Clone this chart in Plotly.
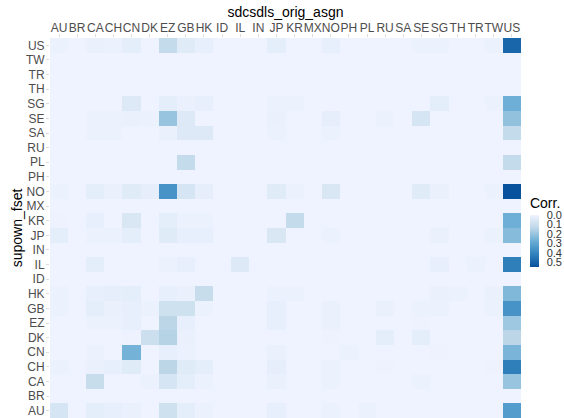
import plotly.graph_objects as go

FONT = "Liberation Sans, Arial, sans-serif"

x_labels = ["AU", "BR", "CA", "CH", "CN", "DK", "EZ", "GB", "HK", "ID", "IL", "IN", "JP",
            "KR", "MX", "NO", "PH", "PL", "RU", "SA", "SE", "SG", "TH", "TR", "TW", "US"]
# rows listed top to bottom as they appear on the chart
y_labels = ["US", "TW", "TR", "TH", "SG", "SE", "SA", "RU", "PL", "PH", "NO", "MX", "KR",
            "JP", "IN", "IL", "ID", "HK", "GB", "EZ", "DK", "CN", "CH", "CA", "BR", "AU"]

ZERO = [0] * 26
row_US = [0.01, 0, 0.015, 0.01, 0.03, 0, 0.12, 0.04, 0.02, 0, 0, 0, 0.03, 0, 0, 0.02, 0, 0, 0, 0, 0.01, 0.01, 0, 0, 0.01, 0.49]
row_TW = ZERO
row_TR = ZERO
row_TH = ZERO
row_SG = [0, 0, 0, 0, 0.05, 0, 0.03, 0.015, 0.02, 0, 0, 0, 0.01, 0.01, 0, 0, 0, 0, 0, 0, 0, 0.03, 0, 0, 0.01, 0.27]
row_SE = [0, 0, 0.01, 0.01, 0.015, 0.01, 0.2, 0.05, 0, 0, 0, 0, 0.015, 0, 0, 0.025, 0, 0, 0.01, 0, 0.07, 0, 0, 0, 0, 0.21]
row_SA = [0, 0, 0.01, 0.01, 0, 0, 0.015, 0.05, 0.05, 0, 0, 0, 0.01, 0, 0, 0.01, 0, 0, 0, 0, 0, 0, 0, 0, 0, 0.12]
row_RU = ZERO
row_PL = [0, 0, 0, 0, 0, 0, 0, 0.12, 0, 0, 0, 0, 0, 0, 0, 0, 0, 0, 0, 0, 0, 0, 0, 0, 0, 0.12]
row_PH = ZERO
row_NO = [0.01, 0, 0.03, 0.015, 0.04, 0.025, 0.36, 0.07, 0.025, 0, 0, 0, 0.04, 0.01, 0, 0.06, 0, 0, 0, 0, 0.04, 0.015, 0, 0, 0.01, 0.55]
row_MX = ZERO
row_KR = [0.005, 0, 0.02, 0, 0.06, 0, 0.03, 0.01, 0.01, 0, 0, 0, 0, 0.12, 0, 0, 0, 0, 0, 0, 0, 0, 0, 0, 0, 0.27]
row_JP = [0.03, 0, 0.01, 0.01, 0.03, 0, 0.04, 0.02, 0.02, 0, 0, 0, 0.06, 0, 0, 0.01, 0, 0, 0, 0, 0, 0.015, 0, 0, 0.01, 0.23]
row_IN = ZERO
row_IL = [0, 0, 0.03, 0, 0, 0, 0.01, 0.02, 0, 0, 0.05, 0, 0, 0, 0, 0, 0, 0, 0, 0, 0, 0.02, 0, 0.01, 0, 0.42]
row_ID = ZERO
row_HK = [0.01, 0, 0.02, 0.025, 0.03, 0, 0.02, 0.015, 0.11, 0, 0, 0, 0.01, 0.01, 0, 0, 0, 0, 0, 0, 0, 0.015, 0.01, 0, 0.015, 0.24]
row_GB = [0.01, 0, 0.03, 0.015, 0.02, 0.01, 0.09, 0.09, 0.01, 0, 0, 0, 0.02, 0, 0, 0.015, 0, 0, 0.015, 0, 0.01, 0.01, 0, 0, 0.01, 0.36]
row_EZ = [0, 0, 0.01, 0.01, 0.02, 0, 0.14, 0.02, 0, 0, 0, 0, 0.02, 0, 0, 0.015, 0, 0, 0, 0, 0.005, 0, 0, 0, 0, 0.19]
row_DK = [0, 0, 0, 0, 0.005, 0.1, 0.15, 0.015, 0, 0, 0, 0, 0, 0, 0, 0.005, 0, 0, 0.03, 0, 0.03, 0, 0, 0, 0, 0.14]
row_CN = [0, 0, 0.01, 0, 0.26, 0, 0.02, 0.01, 0, 0, 0, 0, 0.015, 0, 0, 0, 0.01, 0, 0, 0, 0, 0.005, 0, 0, 0, 0.25]
row_CH = [0.01, 0, 0.015, 0.02, 0.04, 0, 0.14, 0.04, 0.03, 0, 0, 0, 0.025, 0, 0, 0.01, 0, 0, 0.005, 0, 0, 0, 0, 0, 0.005, 0.42]
row_CA = [0, 0, 0.11, 0, 0, 0.01, 0.07, 0.03, 0.01, 0, 0, 0, 0.015, 0, 0, 0.01, 0, 0, 0, 0, 0.01, 0, 0, 0, 0, 0.2]
row_BR = ZERO
row_AU = [0.07, 0, 0.03, 0.02, 0.015, 0, 0.09, 0.03, 0.01, 0, 0, 0, 0.02, 0, 0, 0.01, 0, 0.01, 0, 0, 0, 0, 0, 0, 0, 0.33]

corr = [row_US, row_TW, row_TR, row_TH, row_SG, row_SE, row_SA, row_RU, row_PL, row_PH, row_NO, row_MX, row_KR,
        row_JP, row_IN, row_IL, row_ID, row_HK, row_GB, row_EZ, row_DK, row_CN, row_CH, row_CA, row_BR, row_AU]

tick_vals = [0.0, 0.1, 0.2, 0.3, 0.4, 0.5]

# colour bar runs light (0) at the top to dark (0.5) at the bottom, so plot -corr on a flipped scale
neg = [[-v for v in row] for row in corr]
scale = [[0, "#08519c"], [0.25, "#3182bd"], [0.5, "#6baed6"], [0.75, "#bdd7e7"], [1, "#eff3ff"]]

fig = go.Figure()
fig.add_trace(go.Heatmap(
    z=neg, x=x_labels, y=y_labels, customdata=corr,
    hovertemplate="%{y} / %{x}: %{customdata}<extra></extra>",
    colorscale=scale, zmin=-0.55, zmax=0,
    colorbar=dict(
        title=dict(text="Corr.", side="top", font=dict(family=FONT, size=14, color="black")),
        tickvals=[-v for v in tick_vals], ticktext=[f"{v:.1f}" for v in tick_vals],
        tickfont=dict(family=FONT, size=11, color="#333333"), tickangle=0,
        ticks="outside", ticklen=6, tickcolor="white",
        thickness=9, len=73, lenmode="pixels",
        x=1.019, xanchor="left", y=0.493, yanchor="middle",
        outlinewidth=0, xpad=0, ypad=0,
    ),
))

fig.update_layout(
    width=564, height=418,
    margin=dict(l=50, r=43, t=38, b=0, autoexpand=False),
    plot_bgcolor="white", paper_bgcolor="white",
    font=dict(family=FONT),
)
fig.update_xaxes(
    side="top", type="category", categoryorder="array", categoryarray=x_labels,
    title=dict(text="sdcsdls_orig_asgn", font=dict(family=FONT, size=14, color="black"), standoff=0),
    tickfont=dict(family=FONT, size=12, color="#4d4d4d"), tickangle=0, automargin=False,
    ticklabelstandoff=-3,
    ticks="outside", ticklen=3, tickcolor="#dcdcdc", showgrid=False, zeroline=False,
)
fig.update_yaxes(
    type="category", categoryorder="array", categoryarray=y_labels, autorange="reversed",
    title=dict(text="supown_fset", font=dict(family=FONT, size=14, color="black"), standoff=0),
    tickfont=dict(family=FONT, size=12, color="#4d4d4d"), automargin=False,
    ticklabelstandoff=-1,
    ticks="outside", ticklen=3, tickcolor="#dcdcdc", showgrid=False, zeroline=False,
)

# page body has a default 8px margin; drop it so the figure sits at the window's corner
fig.write_html("out.html", config={"displayModeBar": False},
               post_script="document.body.style.margin='0';")
